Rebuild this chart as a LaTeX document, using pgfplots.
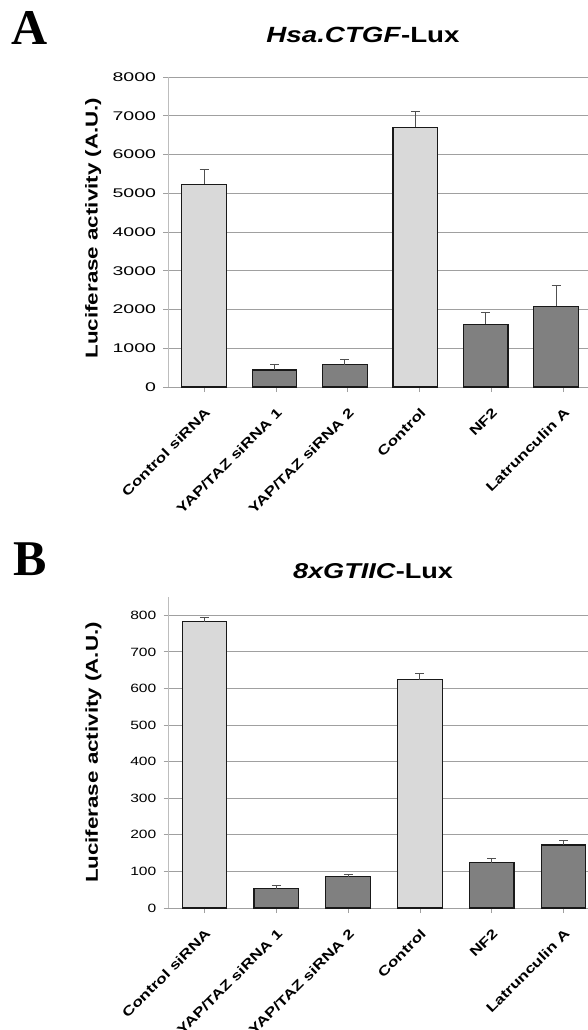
\documentclass[border=0pt]{standalone}
\usepackage{fontspec}
\setmainfont{Liberation Sans}
\newfontfamily\serifbf{Liberation Serif}
\newfontfamily\widefont[FakeStretch=1.3]{Liberation Sans}
\newfontfamily\titlefont[FakeStretch=1.26]{Liberation Sans}
\newfontfamily\tickAfont[FakeStretch=1.55]{Liberation Sans}
\newfontfamily\tickBfont[FakeStretch=1.3]{Liberation Sans}
\usepackage{pgfplots}
\pgfplotsset{compat=1.18}
\definecolor{lightbar}{HTML}{D9D9D9}
\definecolor{darkbar}{HTML}{808080}
\definecolor{gridc}{HTML}{A0A0A0}
\definecolor{yaxc}{HTML}{BDBDBD}
\definecolor{errc}{HTML}{505050}
\pgfplotsset{
  lucstyle/.style={
    scale only axis,
    width=431pt,
    xmin=-0.5, xmax=5.5,
    ymin=0,
    axis x line*=bottom,
    axis y line*=left,
    x axis line style={gridc, line width=0.8pt, -},
    y axis line style={yaxc, line width=0.8pt, -},
    ymajorgrids,
    grid style={gridc, line width=0.8pt},
    tick align=outside,
    major tick length=5pt,
    tick style={gridc, line width=0.8pt},
    xtick={0,1,2,3,4,5},
    xticklabels={Control siRNA, YAP/TAZ siRNA 1, YAP/TAZ siRNA 2, Control, NF2, Latrunculin A},
    xticklabel style={xshift=0pt, yshift=-15pt, rotate=45, anchor=north east, inner sep=0pt, font=\fontsize{13.3}{15}\selectfont\widefont\bfseries},
    /pgf/number format/assume math mode=true,
    /pgf/number format/1000 sep={},
    ylabel={Luciferase activity (A.U.)},
    ylabel style={at={(axis description cs:0,0.5)}, anchor=center, yshift=75pt, font=\fontsize{17.2}{20}\selectfont\widefont\bfseries},
    clip=false,
  },
  lucbar/.style={
    ybar, bar width=44.5pt, bar shift=0pt,
    draw=black!90, line width=1.2pt,
    error bars/.cd, y dir=plus, y explicit,
    error bar style={errc, line width=0.9pt},
    error mark options={errc, rotate=90, mark size=4.5pt, line width=0.9pt},
    /pgfplots/.cd,
  },
}
\begin{document}
\begin{tikzpicture}
\path[use as bounding box] (0pt,0pt) rectangle (587pt,-1030pt);
% panel letters and titles
\node[anchor=base west, inner sep=0pt, font=\fontsize{50}{54}\selectfont\serifbf\bfseries] at (11pt,-45pt) {A};
\node[anchor=base west, inner sep=0pt, font=\fontsize{50}{54}\selectfont\serifbf\bfseries] at (13pt,-575pt) {B};
\node[anchor=base, inner sep=0pt, font=\fontsize{22}{26}\selectfont\titlefont\bfseries] at (363pt,-43pt) {\textit{Hsa.CTGF}-Lux};
\node[anchor=base, inner sep=0pt, font=\fontsize{21.5}{26}\selectfont\titlefont\bfseries] at (373pt,-578pt) {\textit{8xGTIIC}-Lux};
% Panel A
\begin{axis}[lucstyle, at={(168.2pt,-387pt)}, anchor=south west, height=310pt,
  ymax=8000, ytick={0,1000,...,8000},
  yticklabel style={font=\fontsize{12.6}{14}\selectfont\tickAfont, inner sep=0pt, xshift=-7pt},
  ylabel style={xshift=4pt}]
\addplot[fill=lightbar, lucbar] coordinates {
  (0,5235) +- (0,380)
  (2.94,6700) +- (0,400)
};
\addplot[fill=darkbar, lucbar] coordinates {
  (0.98,440) +- (0,150)
  (1.96,575) +- (0,138)
  (3.92,1622) +- (0,300)
  (4.90,2078) +- (0,540)
};
\end{axis}
% Panel B
\begin{axis}[lucstyle, at={(168.5pt,-908pt)}, anchor=south west, height=311pt,
  ymax=850, ytick={0,100,...,800},
  yticklabel style={font=\fontsize{12}{14}\selectfont\tickBfont, inner sep=0pt, xshift=-7pt}]
\addplot[fill=lightbar, lucbar] coordinates {
  (0,782) +- (0,12)
  (3,624) +- (0,18)
};
\addplot[fill=darkbar, lucbar] coordinates {
  (1,53) +- (0,9)
  (2,86) +- (0,6)
  (4,124) +- (0,11)
  (5,172) +- (0,12)
};
\end{axis}
\end{tikzpicture}
\end{document}
